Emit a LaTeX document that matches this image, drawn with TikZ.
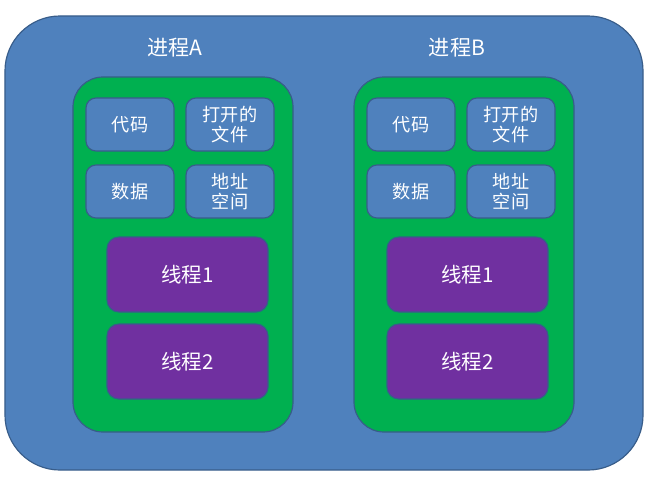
\documentclass[tikz,border=0pt]{standalone}
\usepackage{fontspec}
\newfontfamily\cjk{Noto Sans CJK SC}
\usepackage{xcolor}
\usepackage{tikz}
\usetikzlibrary{positioning}

\definecolor{procblue}{HTML}{4F81BD}
\definecolor{edgeblue}{HTML}{385D8A}
\definecolor{resgreen}{HTML}{00B050}
\definecolor{thrpurple}{HTML}{7030A0}

\begin{document}
\begin{tikzpicture}[
  x=0.03cm, y=-0.03cm,
  base/.style={rectangle, draw=edgeblue, line width=1pt,
    inner sep=0pt, outer sep=0pt, align=center,
    text=white, font=\cjk},
  outerbox/.style={base, fill=procblue, rounded corners=1.65cm,
    minimum width=19.14cm, minimum height=13.62cm},
  resbox/.style={base, fill=resgreen, rounded corners=0.9cm,
    minimum width=6.6cm, minimum height=10.65cm},
  itembox/.style={base, fill=procblue, rounded corners=0.3cm,
    minimum width=2.64cm, minimum height=1.59cm,
    font=\cjk\fontsize{15.5}{17.5}\selectfont},
  thrbox/.style={base, fill=thrpurple, rounded corners=0.36cm,
    minimum width=4.83cm, minimum height=2.25cm,
    font=\cjk\fontsize{17.5}{19}\selectfont},
  ttl/.style={text=white, font=\cjk\fontsize{18}{20}\selectfont}
]
\useasboundingbox (0,0) rectangle (652,482);

% whole area
\node[outerbox] (all) at (324, 243) {};

% process A
\node[ttl] (tA) at (175, 48) {进程A};
\node[resbox] (pA) at (183, 254.5) {};
\node[itembox] (codeA) at (130, 124.5) {代码};
\node[itembox] (fileA) at (230, 124.5) {打开的\\文件};
\node[itembox] (dataA) at (130, 191.5) {数据};
\node[itembox] (addrA) at (230, 191.5) {地址\\空间};
\node[thrbox] (t1A) at (187.5, 274.5) {线程1};
\node[thrbox] (t2A) at (187.5, 361.5) {线程2};

% process B
\node[ttl] (tB) at (457, 48) {进程B};
\node[resbox] (pB) at (464, 254.5) {};
\node[itembox] (codeB) at (411, 124.5) {代码};
\node[itembox] (fileB) at (511, 124.5) {打开的\\文件};
\node[itembox] (dataB) at (411, 191.5) {数据};
\node[itembox] (addrB) at (511, 191.5) {地址\\空间};
\node[thrbox] (t1B) at (467.5, 274.5) {线程1};
\node[thrbox] (t2B) at (467.5, 361.5) {线程2};

\end{tikzpicture}
\end{document}
